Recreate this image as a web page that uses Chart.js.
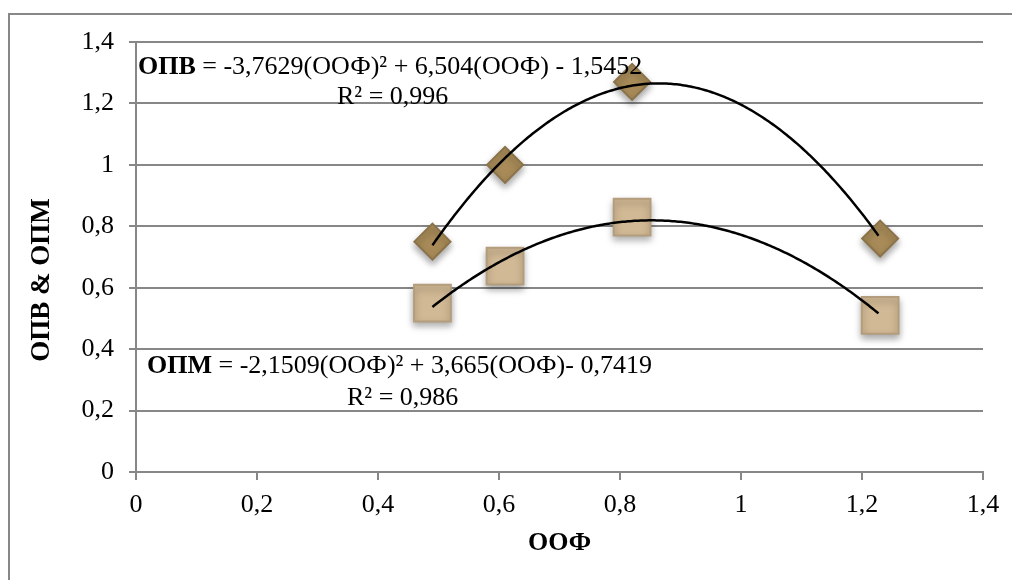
<!DOCTYPE html>
<html>
<head>
<meta charset="utf-8">
<script src="https://cdn.jsdelivr.net/npm/chart.js@4.4.1/dist/chart.umd.min.js"></script>
<style>
  html, body { margin: 0; padding: 0; background: #fff; }
  #wrap { width: 1012px; height: 580px; position: relative; }
</style>
</head>
<body>
<div id="wrap"><canvas id="c"></canvas></div>
<script>
// ОПВ / ОПМ vs ООФ — точки и полиномиальные тренды (2-й степени)
const OOF = [0.49, 0.61, 0.82, 1.23];
const OPV = [0.75, 1.00, 1.27, 0.76];
const OPM = [0.55, 0.67, 0.83, 0.51];

// коэффициенты трендов: a*x^2 + b*x + c (из подписей на графике)
const OPV_COEF = [-3.7629, 6.504, -1.5452];
const OPM_COEF = [-2.1509, 3.665, -0.7419];

const X_TICKS = ['0', '0,2', '0,4', '0,6', '0,8', '1', '1,2', '1,4'];
const Y_TICKS = ['0', '0,2', '0,4', '0,6', '0,8', '1', '1,2', '1,4'];

const X_TITLE = 'ООФ';
const Y_TITLE = 'ОПВ & ОПМ';

const EQ_OPV = ['ОПВ', ' = -3,7629(ООФ)² + 6,504(ООФ) - 1,5452'];
const R2_OPV = 'R² = 0,996';
const EQ_OPM = ['ОПМ', ' = -2,1509(ООФ)² + 3,665(ООФ)- 0,7419'];
const R2_OPM = 'R² = 0,986';

const GRID = '#878787';
const FONT = '"Liberation Serif", "Times New Roman", serif';
const FS = 26;

function pts(xs, ys) { return xs.map((x, i) => ({ x, y: ys[i] })); }

const decor = {
  id: 'decor',
  beforeDraw(chart) {
    const ctx = chart.ctx;
    ctx.save();
    ctx.strokeStyle = GRID;
    ctx.lineWidth = 2;
    ctx.strokeRect(9, 14, 1200, 800);
    ctx.restore();
  },
  beforeDatasetDraw(chart) {
    const ctx = chart.ctx;
    ctx.save();
    ctx.shadowColor = 'rgba(0,0,0,0.35)';
    ctx.shadowBlur = 7;
    ctx.shadowOffsetY = 4;
  },
  afterDatasetDraw(chart) {
    chart.ctx.restore();
  },
  afterDatasetsDraw(chart) {
    const ctx = chart.ctx, xs = chart.scales.x, ys = chart.scales.y;
    const trend = (coef) => {
      const x0 = Math.min(...OOF), x1 = Math.max(...OOF);
      const p0 = xs.getPixelForValue(x0), p1 = xs.getPixelForValue(x1);
      ctx.beginPath();
      for (let px = p0; px <= p1 + 0.01; px += 2) {
        const v = xs.getValueForPixel(px);
        const py = ys.getPixelForValue(coef[0] * v * v + coef[1] * v + coef[2]);
        if (px === p0) ctx.moveTo(px, py); else ctx.lineTo(px, py);
      }
      ctx.stroke();
    };
    ctx.save();
    ctx.strokeStyle = '#000';
    ctx.lineWidth = 2.5;
    ctx.lineJoin = 'round';
    trend(OPV_COEF);
    trend(OPM_COEF);
    ctx.restore();
  },
  afterDraw(chart) {
    const ctx = chart.ctx;
    ctx.save();
    ctx.fillStyle = '#000';
    ctx.textBaseline = 'alphabetic';
    const eq = (parts, x, y) => {
      ctx.font = 'bold ' + FS + 'px ' + FONT;
      ctx.fillText(parts[0], x, y);
      const w = ctx.measureText(parts[0]).width;
      ctx.font = FS + 'px ' + FONT;
      ctx.fillText(parts[1], x + w, y);
    };
    eq(EQ_OPV, 138, 74);
    ctx.font = FS + 'px ' + FONT;
    ctx.fillText(R2_OPV, 337, 104);
    eq(EQ_OPM, 147, 373);
    ctx.font = FS + 'px ' + FONT;
    ctx.fillText(R2_OPM, 347, 405);

    // подписи осей
    ctx.font = 'bold ' + FS + 'px ' + FONT;
    ctx.textAlign = 'center';
    ctx.textBaseline = 'middle';
    ctx.fillText(X_TITLE, (chart.chartArea.left + chart.chartArea.right) / 2, 543);
    ctx.font = 'bold 27px ' + FONT;
    ctx.translate(42, 280);
    ctx.rotate(-Math.PI / 2);
    ctx.fillText(Y_TITLE, 0, 0);
    ctx.restore();
  }
};

new Chart(document.getElementById('c'), {
  type: 'scatter',
  data: {
    datasets: [
      {
        label: 'ОПМ',
        data: pts(OOF, OPM),
        pointStyle: 'rect',
        pointRadius: 26,
        pointHoverRadius: 26,
        backgroundColor: '#d2b995',
        borderColor: '#b39d7c',
        borderWidth: 2
      },
      {
        label: 'ОПВ',
        data: pts(OOF, OPV),
        pointStyle: 'rectRot',
        pointRadius: 18,
        pointHoverRadius: 18,
        backgroundColor: '#a88b58',
        borderColor: '#8b7249',
        borderWidth: 2
      }
    ]
  },
  options: {
    responsive: true,
    maintainAspectRatio: false,
    animation: false,
    events: [],
    layout: { padding: { top: 42, right: 29, left: 0, bottom: 0 } },
    plugins: { legend: { display: false }, tooltip: { enabled: false } },
    scales: {
      x: {
        type: 'linear',
        min: 0, max: 1.4,
        afterBuildTicks: s => { s.ticks = X_TICKS.map((_, i) => ({ value: i * 0.2 })); },
        afterFit: s => { s.height = 108; },
        grid: { drawOnChartArea: false, drawTicks: true, tickLength: 8, color: GRID, lineWidth: 2 },
        border: { display: true, color: GRID, width: 2 },
        ticks: {
          color: '#000', padding: 10, maxRotation: 0,
          font: { family: FONT, size: FS },
          callback: (v, i) => X_TICKS[i]
        }
      },
      y: {
        type: 'linear',
        min: 0, max: 1.4,
        afterBuildTicks: s => { s.ticks = Y_TICKS.map((_, i) => ({ value: i * 0.2 })); },
        afterFit: s => { s.width = 136; },
        grid: { drawOnChartArea: true, drawTicks: true, tickLength: 7, color: GRID, lineWidth: 2 },
        border: { display: true, color: GRID, width: 2 },
        ticks: {
          color: '#000', padding: 15,
          font: { family: FONT, size: FS },
          callback: (v, i) => Y_TICKS[i]
        }
      }
    }
  },
  plugins: [decor]
});
</script>
</body>
</html>
